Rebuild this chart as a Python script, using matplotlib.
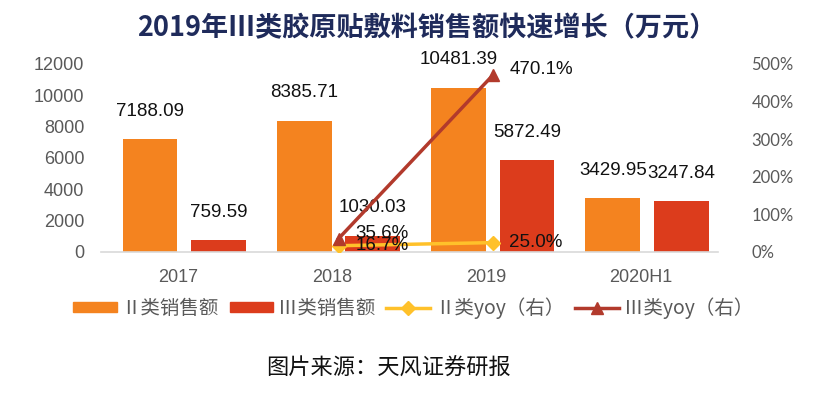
import matplotlib
matplotlib.use("Agg")
import matplotlib.pyplot as plt
from matplotlib.patches import Patch
from matplotlib.lines import Line2D
import numpy as np

categories = ["2017", "2018", "2019", "2020H1"]
ii_sales = [7188.09, 8385.71, 10481.39, 3429.95]
iii_sales = [759.59, 1030.03, 5872.49, 3247.84]
ii_yoy = [np.nan, 16.7, 25.0, np.nan]
iii_yoy = [np.nan, 35.6, 470.1, np.nan]

title = "2019年Ⅲ类胶原贴敷料销售额快速增长（万元）"
source = "图片来源：天风证券研报"
legend_labels = ["Ⅱ类销售额", "Ⅲ类销售额", "Ⅱ类yoy（右）", "Ⅲ类yoy（右）"]

C_II = "#F4831F"
C_III = "#DC3C1C"
C_IIY = "#FFC12A"
C_IIIY = "#B23A2C"
GRAY = "#595959"

plt.rcParams['font.family'] = ['Liberation Sans', 'Noto Sans CJK SC', 'DejaVu Sans']

fig = plt.figure(figsize=(8.26, 3.93), dpi=100)
ax = fig.add_axes([101/826, 1-252/393, 617/826, 188/393])
ax2 = ax.twinx()

x = np.arange(len(categories))
shift = 0.04
w = 0.355
off = 0.222
ax.bar(x + shift - off, ii_sales, w, color=C_II, zorder=2)
ax.bar(x + shift + off, iii_sales, w, color=C_III, zorder=2)

for xi, v in zip(x + shift - off, ii_sales):
    ax.annotate(f"{v:.2f}", (xi, v), xytext=(0, 14), textcoords="offset points",
                ha="center", va="bottom", fontsize=13.5, color="#111111",
                family=['Liberation Sans'], zorder=5)
for xi, v in zip(x + shift + off, iii_sales):
    ax.annotate(f"{v:.2f}", (xi, v), xytext=(0, 14), textcoords="offset points",
                ha="center", va="bottom", fontsize=13.5, color="#111111",
                family=['Liberation Sans'], zorder=5)

ax.set_ylim(0, 12000)
ax.set_yticks(np.arange(0, 12001, 2000))
ax.set_xlim(-0.5, 3.5)
ax.set_xticks(x)
ax.set_xticklabels(categories)
ax.tick_params(axis='both', length=0, colors=GRAY, labelsize=13)
ax.tick_params(axis='x', pad=12)
ax.tick_params(axis='y', pad=12)
for s in ["top", "left", "right"]:
    ax.spines[s].set_visible(False)
ax.spines["bottom"].set_color("#D9D9D9")
ax.spines["bottom"].set_linewidth(1.2)

ax2.plot(x + shift, ii_yoy, color=C_IIY, lw=2.5, marker="D", ms=7, zorder=3)
ax2.plot(x + shift, iii_yoy, color=C_IIIY, lw=2.5, marker="^", ms=9, zorder=3)
for xi, v in zip(x + shift, ii_yoy):
    if not np.isnan(v):
        ax2.annotate(f"{v:.1f}%", (xi, v), xytext=(12, 0), textcoords="offset points",
                     ha="left", va="center", fontsize=13.5, color="#111111",
                     family=['Liberation Sans'])
for xi, v in zip(x + shift, iii_yoy):
    if not np.isnan(v):
        ax2.annotate(f"{v:.1f}%", (xi, v), xytext=(12, 4), textcoords="offset points",
                     ha="left", va="center", fontsize=13.5, color="#111111",
                     family=['Liberation Sans'])
ax2.set_ylim(0, 500)
ax2.set_yticks(np.arange(0, 501, 100))
ax2.set_yticklabels([f"{v}%" for v in range(0, 501, 100)])
ax2.tick_params(axis='y', length=0, colors=GRAY, labelsize=12, pad=24)
for s in ["top", "left", "right", "bottom"]:
    ax2.spines[s].set_visible(False)
for t in ax2.get_yticklabels():
    t.set_family(['Lato', 'DejaVu Sans'])

fig.text(427/826, 1-28/393, title, ha="center", va="center", fontsize=19.5,
         fontweight="bold", color="#1F2B5B", family=['Noto Sans CJK SC'])
fig.text(388/826, 1-368/393, source, ha="center", va="center", fontsize=16,
         color="#111111", family=['Noto Sans CJK SC'])

handles = [Patch(color=C_II), Patch(color=C_III),
           Line2D([], [], color=C_IIY, lw=2.5, marker="D", ms=7),
           Line2D([], [], color=C_IIIY, lw=2.5, marker="^", ms=9)]
leg = fig.legend(handles, legend_labels, loc="center", bbox_to_anchor=(413/826, 1-308/393),
                 ncol=4, frameon=False, handlelength=2.25, handleheight=0.45,
                 columnspacing=0.55, handletextpad=0.25,
                 prop={'family': ['Noto Sans CJK SC'], 'size': 14})
for t in leg.get_texts():
    t.set_color(GRAY)

fig.savefig("out.png", dpi=100)
